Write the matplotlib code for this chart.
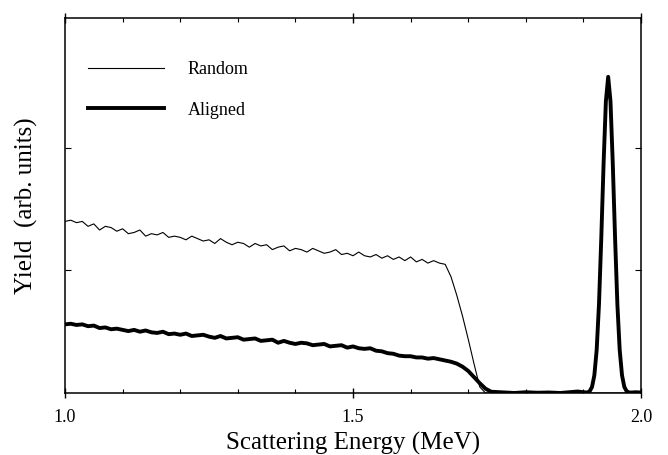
import numpy as np
import matplotlib
matplotlib.use("Agg")
import matplotlib.pyplot as plt
from matplotlib.ticker import MultipleLocator

plt.rcParams['font.family'] = ['Liberation Serif', 'DejaVu Serif']

# Random spectrum: plateau (1.00 - 1.66, step 0.01), then the edge
random_plateau_e = np.round(np.arange(1.00, 1.665, 0.01), 3)
random_plateau = [1.40, 1.41, 1.39, 1.40, 1.36, 1.38, 1.33, 1.36, 1.35, 1.32,
                  1.34, 1.30, 1.31, 1.33, 1.28, 1.30, 1.29, 1.31, 1.27, 1.28,
                  1.27, 1.25, 1.28, 1.26, 1.24, 1.25, 1.22, 1.26, 1.23, 1.21,
                  1.23, 1.22, 1.19, 1.22, 1.20, 1.21, 1.17, 1.19, 1.20, 1.16,
                  1.18, 1.17, 1.15, 1.18, 1.16, 1.14, 1.15, 1.17, 1.13, 1.14,
                  1.12, 1.15, 1.12, 1.11, 1.13, 1.10, 1.12, 1.09, 1.11, 1.08,
                  1.11, 1.07, 1.09, 1.06, 1.08, 1.06, 1.05]
random_edge_e = [1.67, 1.68, 1.69, 1.70, 1.71, 1.72, 1.73, 1.80, 1.90, 2.00]
random_edge = [0.95, 0.80, 0.63, 0.44, 0.24, 0.05, 0.0, 0.0, 0.0, 0.0]

# Aligned spectrum: plateau + edge (1.00 - 1.74), baseline, surface peak
aligned_plateau_e = np.round(np.arange(1.00, 1.745, 0.01), 3)
aligned_plateau = [0.56, 0.565, 0.555, 0.56, 0.545, 0.55, 0.53, 0.535, 0.52, 0.525,
                   0.515, 0.505, 0.515, 0.50, 0.51, 0.495, 0.49, 0.50, 0.48, 0.485,
                   0.475, 0.485, 0.465, 0.47, 0.475, 0.46, 0.45, 0.465, 0.445, 0.45,
                   0.455, 0.435, 0.44, 0.445, 0.425, 0.43, 0.435, 0.41, 0.425, 0.41,
                   0.40, 0.41, 0.405, 0.39, 0.395, 0.40, 0.38, 0.385, 0.39, 0.37,
                   0.38, 0.365, 0.36, 0.365, 0.345, 0.34, 0.325, 0.32, 0.305, 0.30,
                   0.30, 0.29, 0.29, 0.28, 0.285, 0.275, 0.265, 0.255, 0.24, 0.215,
                   0.18, 0.13, 0.08, 0.035, 0.01]
aligned_base_e = [1.76, 1.78, 1.80, 1.82, 1.84, 1.86, 1.88, 1.89, 1.90]
aligned_base = [0.005, 0.0, 0.006, 0.002, 0.004, 0.0, 0.008, 0.012, 0.006]
aligned_peak_e = np.round(np.arange(1.907, 1.9795, 0.004), 3)
aligned_peak = [0.004, 0.015, 0.05, 0.145, 0.35, 0.72, 1.26, 1.87, 2.38, 2.58,
                2.38, 1.87, 1.26, 0.72, 0.35, 0.145, 0.05, 0.015, 0.004]
aligned_tail_e = [1.985, 1.99, 2.00]
aligned_tail = [0.004, 0.006, 0.004]

random_e = np.concatenate([random_plateau_e, random_edge_e])
random_y = np.concatenate([random_plateau, random_edge])
aligned_e = np.concatenate([aligned_plateau_e, aligned_base_e, aligned_peak_e, aligned_tail_e])
aligned_y = np.concatenate([aligned_plateau, aligned_base, aligned_peak, aligned_tail])

fig = plt.figure(figsize=(6.68, 4.55), dpi=100)
ax = fig.add_axes([0.0973, 0.1363, 0.8623, 0.8241])

ax.plot(random_e, random_y, color='black', lw=0.8, label='Random')
ax.plot(aligned_e, aligned_y, color='black', lw=2.8, label='Aligned',
        solid_joinstyle='round')

ax.set_xlim(1.0, 2.0)
ax.set_ylim(0, 3.06)
ax.set_xticks([1.0, 1.5, 2.0])
ax.set_xticklabels(['1.0', '1.5', '2.0'])
ax.xaxis.set_minor_locator(MultipleLocator(0.1))
ax.set_yticks([1, 2])
ax.set_yticklabels([])
ax.tick_params(axis='x', which='major', direction='inout', length=7, width=1,
               top=True, labelsize=13, pad=8)
ax.tick_params(axis='x', which='minor', direction='in', length=3, width=0.8, top=True)
ax.tick_params(axis='y', which='major', direction='in', length=4, width=0.8, right=True)
for s in ax.spines.values():
    s.set_linewidth(1.1)

ax.set_xlabel('Scattering Energy (MeV)', fontsize=18, labelpad=4)
ax.set_ylabel('Yield  (arb. units)', fontsize=18, labelpad=16)

ax.legend(loc='upper left', bbox_to_anchor=(0.04, 0.885), frameon=False,
          fontsize=13, handlelength=4.2, handletextpad=1.3, labelspacing=1.3,
          borderpad=0, borderaxespad=0)

fig.savefig('out.png', dpi=100)
